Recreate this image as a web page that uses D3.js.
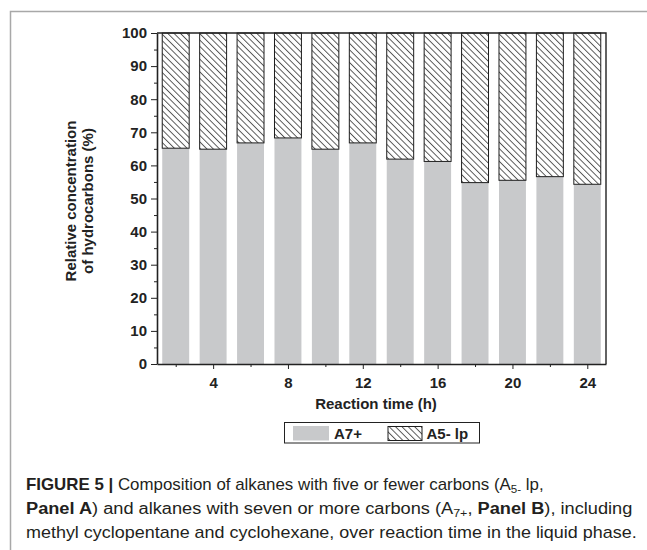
<!DOCTYPE html>
<html>
<head>
<meta charset="utf-8">
<script src="https://cdn.jsdelivr.net/npm/d3@7"></script>
<style>
  body { margin: 0; background: #fff; }
  svg { display: block; }
  .axis text { font-family: "Liberation Sans", Arial, sans-serif; font-weight: bold; font-size: 15px; fill: #222; }
  .axis path, .axis line { stroke: #222; }
</style>
</head>
<body>
<script>
// data
const hours = [2, 4, 6, 8, 10, 12, 14, 16, 18, 20, 22, 24];
const a7plus = [65.2, 64.9, 66.8, 68.3, 64.9, 66.8, 61.9, 61.2, 54.8, 55.5, 56.6, 54.3];
const a5lp = a7plus.map(v => +(100 - v).toFixed(1)); // rest of 100 %
const yTicks = [0, 10, 20, 30, 40, 50, 60, 70, 80, 90, 100];
const yMinor = [5, 15, 25, 35, 45, 55, 65, 75, 85, 95];
const xTicks = [4, 8, 12, 16, 20, 24];
const xMinor = [2, 6, 10, 14, 18, 22];
const seriesNames = ["A7+", "A5- lp"];

const W = 647, H = 550;
const plot = { left: 157, right: 606, top: 33, bottom: 364 };
const barWidthHours = 1.44;
const grey = "#c8c9cb";
const boldFont = "font-family:'Liberation Sans',Arial,sans-serif;font-weight:bold;font-size:15px;fill:#222";

let svg, x, y;

appendSvg("body");
setupScales();
drawBars();
drawAxes();
drawLegend();
drawCaption();

function appendSvg(el) {
  svg = d3.select(el).append("svg")
    .attr("width", W)
    .attr("height", H);

  svg.append("rect").attr("width", W).attr("height", H).attr("fill", "#fff");

  // hatch for the A5- lp part
  svg.append("defs").append("pattern")
    .attr("id", "hatch")
    .attr("patternUnits", "userSpaceOnUse")
    .attr("width", 4.5)
    .attr("height", 4.5)
    .attr("patternTransform", "rotate(-45)")
    .append("line")
    .attr("x1", 0.5).attr("y1", 0)
    .attr("x2", 0.5).attr("y2", 4.5)
    .attr("stroke", "#333")
    .attr("stroke-width", 0.8);

  // light frame around the figure
  svg.append("path")
    .attr("d", `M10.5,${H} V11.5 H${W}`)
    .attr("fill", "none")
    .attr("stroke", "#a8a8a8")
    .attr("stroke-width", 1.5);
}

function setupScales() {
  x = d3.scaleLinear().domain([1, 25]).range([plot.left, plot.right]);
  y = d3.scaleLinear().domain([0, 100]).range([plot.bottom, plot.top]);
}

function drawBars() {
  const bw = x(barWidthHours) - x(0);
  const rows = hours.map((h, i) => ({ h: h, a7: a7plus[i], a5: a5lp[i] }));

  svg.append("g").selectAll("rect")
    .data(rows)
    .enter().append("rect")
    .attr("x", d => x(d.h) - bw / 2)
    .attr("width", bw)
    .attr("y", d => y(d.a7))
    .attr("height", d => y(0) - y(d.a7))
    .attr("fill", grey);

  svg.append("g").selectAll("rect")
    .data(rows)
    .enter().append("rect")
    .attr("x", d => x(d.h) - bw / 2)
    .attr("width", bw)
    .attr("y", d => y(d.a7 + d.a5))
    .attr("height", d => y(d.a7) - y(d.a7 + d.a5))
    .attr("fill", "url(#hatch)")
    .attr("stroke", "#1e1e1e")
    .attr("stroke-width", 1);
}

function drawAxes() {
  // frame top + right
  svg.append("path")
    .attr("d", `M${plot.left},${plot.top} H${plot.right} V${plot.bottom}`)
    .attr("fill", "none")
    .attr("stroke", "#222")
    .attr("stroke-width", 1.4);

  const ax = svg.append("g").attr("class", "axis")
    .attr("transform", `translate(${plot.left},0)`)
    .call(d3.axisLeft(y).tickValues(yTicks).tickSize(6).tickPadding(4).tickSizeOuter(0));
  ax.select(".domain").attr("stroke-width", 1.6);
  svg.append("g").attr("class", "axis")
    .attr("transform", `translate(${plot.left},0)`)
    .call(d3.axisLeft(y).tickValues(yMinor).tickSize(3).tickFormat("").tickSizeOuter(0))
    .select(".domain").remove();

  const bx = svg.append("g").attr("class", "axis")
    .attr("transform", `translate(0,${plot.bottom})`)
    .call(d3.axisBottom(x).tickValues(xTicks).tickSize(5).tickPadding(8).tickSizeOuter(0));
  bx.select(".domain").attr("stroke-width", 1.6);
  svg.append("g").attr("class", "axis")
    .attr("transform", `translate(0,${plot.bottom})`)
    .call(d3.axisBottom(x).tickValues(xMinor).tickSize(3).tickFormat("").tickSizeOuter(0))
    .select(".domain").remove();

  svg.append("text")
    .attr("x", 376).attr("y", 409)
    .attr("text-anchor", "middle")
    .attr("style", boldFont)
    .text("Reaction time (h)");

  const yt = svg.append("text")
    .attr("transform", "translate(0,201) rotate(-90)")
    .attr("text-anchor", "middle")
    .attr("style", boldFont);
  yt.append("tspan").attr("x", 0).attr("y", 76).text("Relative concentration");
  yt.append("tspan").attr("x", 0).attr("y", 93).text("of hydrocarbons (%)");
}

function drawLegend() {
  const lg = svg.append("g");
  lg.append("rect")
    .attr("x", 284.5).attr("y", 422.5).attr("width", 195).attr("height", 20.5)
    .attr("fill", "#fff").attr("stroke", "#222").attr("stroke-width", 1);

  lg.append("rect").attr("x", 293).attr("y", 426).attr("width", 36).attr("height", 14.5)
    .attr("fill", grey);
  lg.append("rect").attr("x", 388).attr("y", 426.5).attr("width", 34).attr("height", 14)
    .attr("fill", "url(#hatch)").attr("stroke", "#1e1e1e").attr("stroke-width", 1);

  lg.append("text").attr("x", 334).attr("y", 438.5).attr("style", boldFont).text(seriesNames[0]);
  lg.append("text").attr("x", 426.5).attr("y", 438.5).attr("style", boldFont).text(seriesNames[1]);
}

function drawCaption() {
  const cap = svg.append("g")
    .style("font-family", "'Liberation Sans', Arial, sans-serif")
    .style("font-size", "16px")
    .style("fill", "#231f20");

  const lines = [
    { y: 490.5, target: 518, parts: [["FIGURE 5 |", "b"], [" Composition of alkanes with five or fewer carbons (A"], ["5-", "s"], [" lp,"]] },
    { y: 514.3, target: 607, parts: [["Panel A", "b"], [") and alkanes with seven or more carbons (A"], ["7+", "s"], [", "], ["Panel B", "b"], ["), including"]] },
    { y: 538, target: 611, parts: [["methyl cyclopentane and cyclohexane, over reaction time in the liquid phase."]] }
  ];

  lines.forEach(l => {
    const t = cap.append("text").attr("x", 26).attr("y", l.y);
    let sub = false;
    l.parts.forEach(p => {
      const s = t.append("tspan").text(p[0]);
      if (p[1] === "b") s.style("font-weight", "bold");
      if (p[1] === "s") { s.style("font-size", "11px").attr("dy", 3); sub = true; }
      else if (sub) { s.attr("dy", -3); sub = false; }
    });
    const w = t.node().getBBox().width;
    t.attr("transform", `translate(26,0) scale(${l.target / w},1) translate(-26,0)`);
  });
}
</script>
</body>
</html>
